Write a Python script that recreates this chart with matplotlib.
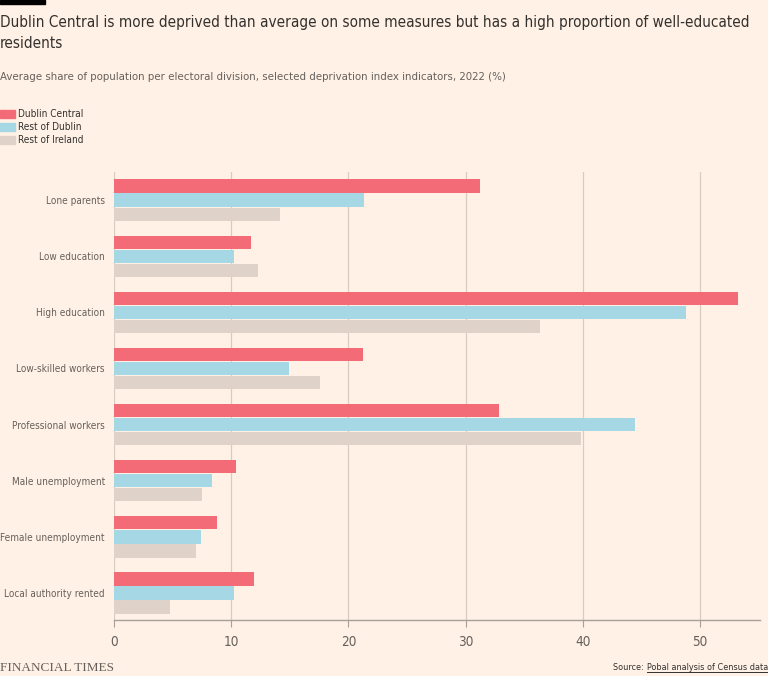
import matplotlib
matplotlib.use('Agg')
import matplotlib.pyplot as plt
import matplotlib.font_manager as fm
import numpy as np
from matplotlib.patches import Rectangle
from matplotlib.lines import Line2D

categories = ['Lone parents', 'Low education', 'High education', 'Low-skilled workers',
              'Professional workers', 'Male unemployment', 'Female unemployment',
              'Local authority rented']
dublin_central = [31.2, 11.7, 53.2, 21.2, 32.8, 10.4, 8.8, 11.9]
rest_of_dublin = [21.3, 10.2, 48.8, 14.9, 44.4, 8.4, 7.4, 10.2]
rest_of_ireland = [14.2, 12.3, 36.3, 17.6, 39.8, 7.5, 7.0, 4.8]
series_names = ['Dublin Central', 'Rest of Dublin', 'Rest of Ireland']
x_ticks = [0, 10, 20, 30, 40, 50]

BG = '#fff1e5'
colors = ['#f36b77', '#a6d7e5', '#dfd3c9']
TEXT = '#33302e'
GREY = '#66605c'

# look for a narrow sans face (FT's Metric is fairly condensed)
narrow = None
for f in fm.fontManager.ttflist:
    n = f.name + ' ' + f.fname
    if ('Narrow' in n or 'Condensed' in n or f.stretch in ('condensed', 'semi-condensed')) \
            and f.style == 'normal' and f.weight in (400, 'normal', 'regular') and 'Serif' not in n \
            and 'Mono' not in n:
        narrow = f
        break
if narrow is not None:
    FONT = fm.FontProperties(fname=narrow.fname)
else:
    FONT = fm.FontProperties(family='Lato')

fig = plt.figure(figsize=(7.68, 6.76), dpi=100, facecolor=BG)
ax = fig.add_axes([114 / 768, 1 - 620 / 676, (760 - 114) / 768, (620 - 172) / 676])
ax.set_facecolor(BG)

y = np.arange(len(categories))
pitch = 0.25
height = 0.235
for i, (vals, c) in enumerate(zip([dublin_central, rest_of_dublin, rest_of_ireland], colors)):
    ax.barh(y + (i - 1) * pitch, vals, height=height, color=c, zorder=2)

ax.set_ylim(len(categories) - 0.52, -0.5)
ax.set_xlim(0, 55.1)
ax.set_yticks(y)
ylabels = ax.set_yticklabels(categories, color=GREY, fontproperties=FONT)
ax.set_xticks(x_ticks)
xlabels = ax.set_xticklabels([str(t) for t in x_ticks], color=GREY, fontproperties=FONT)
ax.tick_params(axis='y', length=0, pad=6.5)
ax.tick_params(axis='x', length=5, color='#a89f97', pad=6)
ax.grid(axis='x', color='#d6ccc2', linewidth=0.9, zorder=0)
for s in ['top', 'right', 'left']:
    ax.spines[s].set_visible(False)
ax.spines['bottom'].set_color('#a89f97')
ax.spines['bottom'].set_linewidth(1.0)


def fit(texts, target_px, maxsize=14):
    # scale font size so that the widest text gets the target pixel width
    fig.canvas.draw()
    r = fig.canvas.get_renderer()
    w = max(t.get_window_extent(r).width for t in texts)
    size = min(texts[0].get_fontsize() * target_px / w, maxsize)
    for t in texts:
        t.set_fontsize(size)
    return size


# header
fig.patches.append(Rectangle((0, 1 - 4 / 676), 45 / 768, 4 / 676, transform=fig.transFigure,
                             color='black', zorder=5))
t1 = fig.text(0, 1 - 22 / 676, 'Dublin Central is more deprived than average on some measures but has a high proportion of well-educated',
              fontproperties=FONT, fontsize=12, color=TEXT, va='center', ha='left')
fit([t1], 745)
t2 = fig.text(0, 1 - 43 / 676, 'residents', fontproperties=FONT, fontsize=t1.get_fontsize(),
              color=TEXT, va='center', ha='left')
st = fig.text(0, 1 - 77 / 676, 'Average share of population per electoral division, selected deprivation index indicators, 2022 (%)',
              fontproperties=FONT, fontsize=9, color=GREY, va='center', ha='left')
fit([st], 505)

# legend
leg = []
for i, (name, c) in enumerate(zip(series_names, colors)):
    yy = 114 + 13 * i
    fig.patches.append(Rectangle((0, 1 - (yy + 4) / 676), 15 / 768, 8 / 676,
                                 transform=fig.transFigure, color=c))
    leg.append(fig.text(18 / 768, 1 - yy / 676, name, fontproperties=FONT, fontsize=8,
                        color=TEXT, va='center', ha='left'))
fit(leg[:1], 65)
for t in leg:
    t.set_fontsize(leg[0].get_fontsize())

ysize = fit(list(ylabels), 104)
for t in xlabels:
    t.set_fontsize(ysize * 1.35)

# footer
fig.text(0, 1 - 668 / 676, 'FINANCIAL TIMES', fontsize=9.5, color=GREY, va='center', ha='left',
         family='Liberation Serif')
link = fig.text(1, 1 - 668 / 676, 'Pobal analysis of Census data', fontproperties=FONT, fontsize=7.5,
                color=TEXT, va='center', ha='right')
fit([link], 120)
fig.canvas.draw()
bb = link.get_window_extent().transformed(fig.transFigure.inverted())
fig.text(bb.x0, 1 - 668 / 676, 'Source: ', fontproperties=FONT, fontsize=link.get_fontsize(),
         color=TEXT, va='center', ha='right')
fig.lines.append(Line2D([bb.x0, bb.x1], [bb.y0 + 0.5 / 676, bb.y0 + 0.5 / 676], transform=fig.transFigure,
                        color=TEXT, linewidth=0.7))

fig.savefig('out.png', dpi=100, facecolor=BG)
